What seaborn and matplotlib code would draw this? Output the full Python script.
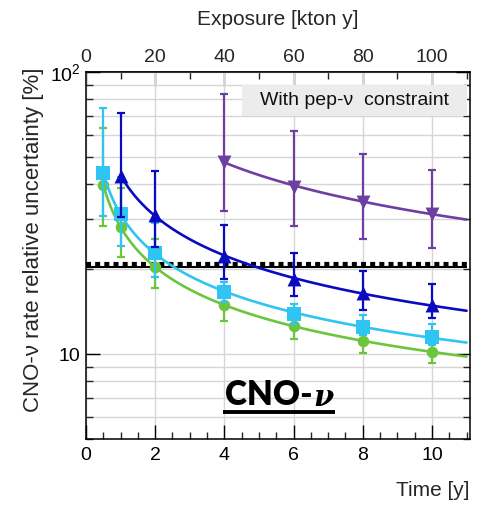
import numpy as np
import pandas as pd
import matplotlib
matplotlib.use("Agg")
import matplotlib.pyplot as plt
import seaborn as sns
from matplotlib.ticker import FixedLocator, NullFormatter, MultipleLocator, LogLocator, FixedFormatter
from matplotlib.patches import Rectangle
from matplotlib.lines import Line2D

# ---------------- data ----------------
time_green = [0.5, 1, 2, 4, 6, 8, 10]
unc_green = [39.7, 28.3, 20.3, 14.9, 12.6, 11.1, 10.2]
lo_green = [28.5, 22.1, 17.1, 13.1, 11.3, 10.1, 9.3]
hi_green = [63.4, 38.7, 25.5, 16.9, 13.6, 12.2, 10.9]

time_cyan = [0.5, 1, 2, 4, 6, 8, 10]
unc_cyan = [43.7, 31.5, 22.8, 16.6, 13.9, 12.5, 11.5]
lo_cyan = [30.8, 24.2, 18.8, 15.3, 12.8, 11.7, 10.8]
hi_cyan = [74.3, 42.5, 29.2, 18.0, 15.1, 13.8, 12.8]

time_blue = [1, 2, 4, 6, 8, 10]
unc_blue = [42.8, 31.1, 22.3, 18.5, 16.4, 14.9]
lo_blue = [30.5, 24.0, 18.5, 16.1, 14.3, 13.4]
hi_blue = [71.3, 44.6, 28.7, 22.9, 19.7, 17.7]

time_purple = [4, 6, 8, 10]
unc_purple = [48.1, 39.2, 34.7, 31.5]
lo_purple = [32.2, 28.5, 25.6, 23.7]
hi_purple = [83.3, 61.9, 51.2, 44.9]

threshold_solid = [20.4]
threshold_dashed = [20.9]
threshold_span = [0, 11]

x_ticks = [0, 2, 4, 6, 8, 10]
exposure_ticks = [0, 20, 40, 60, 80, 100]
y_ticks = [10, 100]
y_ticklabels = ["10", "$10^{2}$"]

box_text = "With pep-\u03bd  constraint"
panel_text = "CNO-"
panel_nu = "\u03bd"

# ---------------- style ----------------
sns.set_theme(style="ticks")
plt.rcParams["font.family"] = ["Liberation Sans", "DejaVu Sans"]
plt.rcParams["mathtext.fontset"] = "custom"
plt.rcParams["mathtext.rm"] = "Liberation Sans"
plt.rcParams["mathtext.it"] = "Liberation Sans:italic"

c_green = "#6cc63c"
c_cyan = "#30c4f2"
c_blue = "#0a0ac0"
c_purple = "#6e3fa3"

fig, ax = plt.subplots(figsize=(4.81, 5.09), dpi=100)
fig.subplots_adjust(left=86 / 481, right=470 / 481, bottom=1 - 439 / 509, top=1 - 72 / 509)

ax.set_yscale("log")
ax.set_xlim(0, 11.1)
ax.set_ylim(5, 100)

# grid
ax.xaxis.set_major_locator(FixedLocator(x_ticks))
ax.xaxis.set_minor_locator(MultipleLocator(0.5))
ax.yaxis.set_major_locator(FixedLocator(y_ticks))
ax.yaxis.set_major_formatter(FixedFormatter(y_ticklabels))
ax.yaxis.set_minor_locator(LogLocator(base=10, subs=np.arange(2, 10)))
ax.yaxis.set_minor_formatter(NullFormatter())
ax.xaxis.grid(True, which="major", color="#d6d6d6", lw=1.0, zorder=0)
ax.yaxis.grid(True, which="both", color="#d6d6d6", lw=1.0, zorder=0)
ax.set_axisbelow(True)

# threshold lines
ax.hlines(threshold_solid, threshold_span[0], threshold_span[1], color="black", lw=1.5, zorder=2)
ax.hlines(threshold_dashed, threshold_span[0], threshold_span[1], color="black", lw=3.0,
          linestyles=[(0, (1.2, 1.0))], zorder=2)


def fit_curve(t, v, deg):
    lt, lv = np.log(np.asarray(t, float)), np.log(np.asarray(v, float))
    c = np.polyfit(lt, lv, deg)
    tt = np.linspace(min(t), 11.0, 300)
    return tt, np.exp(np.polyval(c, np.log(tt)))


series = [
    (time_green, unc_green, lo_green, hi_green, c_green, "o", 70, 2),
    (time_cyan, unc_cyan, lo_cyan, hi_cyan, c_cyan, "s", 90, 2),
    (time_blue, unc_blue, lo_blue, hi_blue, c_blue, "^", 100, 2),
    (time_purple, unc_purple, lo_purple, hi_purple, c_purple, "v", 100, 1),
]

for i, (t, v, lo, hi, col, mk, sz, deg) in enumerate(series):
    v = np.asarray(v)
    tt, yy = fit_curve(t, v, deg)
    sns.lineplot(x=tt, y=yy, color=col, lw=1.9, ax=ax, zorder=3 + i)
    ax.errorbar(t, v, yerr=[v - np.asarray(lo), np.asarray(hi) - v], fmt="none",
                ecolor=col, elinewidth=1.6, capsize=2.6, capthick=1.6, zorder=3 + i)
    sns.scatterplot(x=t, y=v, color=col, marker=mk, s=sz, linewidth=0, ax=ax, zorder=3.5 + i)

# ticks
for side in ["left", "right", "top", "bottom"]:
    ax.spines[side].set_color("black")
    ax.spines[side].set_linewidth(1.1)
ax.tick_params(which="major", direction="in", length=10, width=1.0, top=False, right=True,
               labelsize=14, colors="black", pad=6)
ax.tick_params(which="minor", direction="in", length=5, width=1.0, top=False, right=True)
ax.tick_params(axis="y", which="major", pad=4)

secax = ax.secondary_xaxis("top", functions=(lambda t: t * 10, lambda e: e / 10))
secax.xaxis.set_major_locator(FixedLocator(exposure_ticks))
secax.xaxis.set_minor_locator(MultipleLocator(10))
secax.tick_params(which="major", direction="in", length=10, width=1.0, labelsize=14, pad=4)
secax.tick_params(which="minor", direction="in", length=5, width=1.0)
secax.spines["top"].set_linewidth(1.1)
secax.set_xlabel("Exposure [kton y]", fontsize=15)
secax.xaxis.set_label_coords(0.5, 1.142, transform=ax.transAxes)
secax.xaxis.label.set_va("center")

ax.set_xlabel("Time [y]", fontsize=15)
ax.xaxis.set_label_coords(1.0, -0.139)
ax.xaxis.label.set_ha("right")
ax.xaxis.label.set_va("center")

ax.set_ylabel("CNO-\u03bd rate relative uncertainty [%]", fontsize=16)
ax.yaxis.set_label_coords(-0.138, 1.012)
ax.yaxis.label.set_ha("right")
ax.yaxis.label.set_va("center")

# legend-like box
ax.add_patch(Rectangle((0.406, 0.880), 0.586, 0.085, transform=ax.transAxes,
                       facecolor="#ececec", edgecolor="none", zorder=2.5))
ax.text(0.70, 0.922, box_text, transform=ax.transAxes, ha="center", va="center",
        fontsize=14, color="#111111", zorder=2.6)

# panel label "CNO-ν" (bold, underlined)
t1 = ax.text(0.362, 0.12, panel_text, transform=ax.transAxes, ha="left", va="center",
             fontsize=24, fontweight="heavy", family=["Lato", "DejaVu Sans"], color="black", zorder=10)
fig.canvas.draw()
r = fig.canvas.get_renderer()
bb1 = t1.get_window_extent(r)
inv = ax.transAxes.inverted()
x_end = inv.transform((bb1.x1, bb1.y0))[0]
t2 = ax.text(x_end + 0.002, 0.113, panel_nu, transform=ax.transAxes, ha="left", va="center",
             fontsize=21, fontweight="bold", style="italic", family=["DejaVu Serif"],
             color="black", zorder=10)
fig.canvas.draw()
bb2 = t2.get_window_extent(r)
x0 = inv.transform((bb1.x0, 0))[0]
x1 = inv.transform((bb2.x1, 0))[0]
ax.add_line(Line2D([x0 - 0.004, x1 + 0.004], [0.073, 0.073], transform=ax.transAxes,
                   color="black", lw=2.8, solid_capstyle="butt", zorder=10))

fig.savefig("out.png", dpi=100)
